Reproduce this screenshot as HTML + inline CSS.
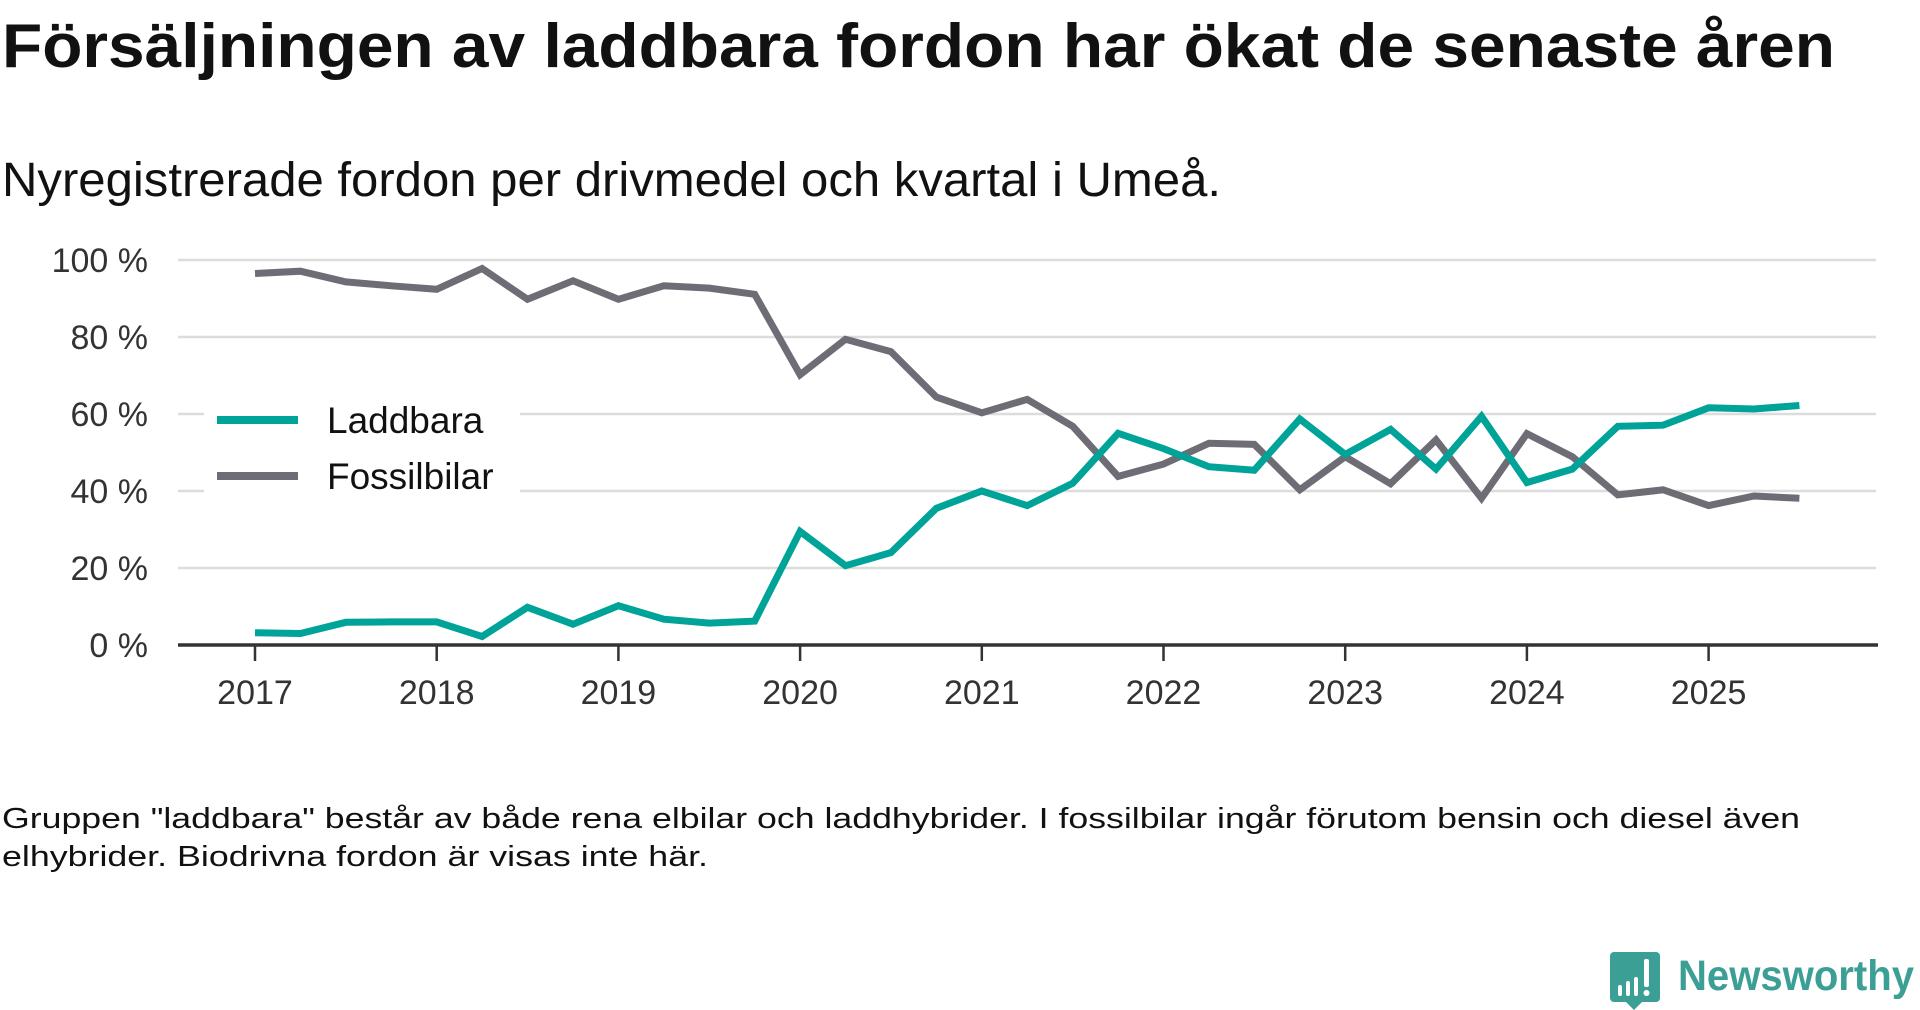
<!DOCTYPE html>
<html><head><meta charset="utf-8"><style>
html,body{margin:0;padding:0;background:#fff;}
svg{display:block;font-family:"Liberation Sans","DejaVu Sans",sans-serif;}
</style></head><body>
<svg id="chart" width="1920" height="1010" viewBox="0 0 1920 1010">
<text x="2" y="67" font-size="62" font-weight="bold" fill="#111" textLength="1833" lengthAdjust="spacingAndGlyphs">Försäljningen av laddbara fordon har ökat de senaste åren</text>
<text x="2" y="196" font-size="48" fill="#111" textLength="1219" lengthAdjust="spacingAndGlyphs">Nyregistrerade fordon per drivmedel och kvartal i Umeå.</text>
<g id="grid"></g>
<g id="yaxis"></g>
<g id="xaxis"></g>
<g id="series"></g>
<g>
<rect x="204" y="392" width="316" height="110" fill="#fff"/>
<line x1="217" y1="420" x2="298" y2="420" stroke="#00a398" stroke-width="8"/>
<text x="327" y="433" font-size="37" fill="#111">Laddbara</text>
<line x1="217" y1="476" x2="298" y2="476" stroke="#6e6d75" stroke-width="8"/>
<text x="327" y="489" font-size="37" fill="#111">Fossilbilar</text>
</g>
<text x="2" y="828" font-size="29" fill="#111" textLength="1798" lengthAdjust="spacingAndGlyphs">Gruppen "laddbara" består av både rena elbilar och laddhybrider. I fossilbilar ingår förutom bensin och diesel även</text>
<text x="2" y="866" font-size="29" fill="#111" textLength="706" lengthAdjust="spacingAndGlyphs">elhybrider. Biodrivna fordon är visas inte här.</text>
<g>
<path d="M1614 952 h42 a4 4 0 0 1 4 4 v42 a4 4 0 0 1 -4 4 h-14 l-8 8 l-8 -8 h-12 a4 4 0 0 1 -4 -4 v-42 a4 4 0 0 1 4 -4z" fill="#3c9f95"/>
<rect x="1618" y="985" width="4" height="11" rx="2" fill="#fff"/>
<rect x="1626" y="981" width="4" height="15" rx="2" fill="#fff"/>
<rect x="1634" y="977" width="4" height="19" rx="2" fill="#fff"/>
<rect x="1644" y="959" width="5" height="28" rx="2" fill="#fff"/>
<circle cx="1646.5" cy="993" r="3" fill="#fff"/>
<text x="1678" y="990" font-size="43" font-weight="bold" fill="#3c9f95" textLength="236" lengthAdjust="spacingAndGlyphs">Newsworthy</text>
</g>
</svg>
<script>
const years = [2017,2018,2019,2020,2021,2022,2023,2024,2025];
const yTicks = [0,20,40,60,80,100];
const yTickLabels = ["0 %","20 %","40 %","60 %","80 %","100 %"];
const laddbara = [3.2,3,5.9,6,6,2.2,9.8,5.4,10.2,6.7,5.7,6.2,29.5,20.6,24,35.5,40,36.2,42,55,51,46.3,45.4,58.7,49.5,56,45.7,59.4,42.2,45.7,56.8,57.1,61.6,61.3,62.2];
const fossilbilar = [96.5,97.1,94.3,93.3,92.4,97.8,89.8,94.6,89.8,93.3,92.7,91.1,70.2,79.4,76.2,64.4,60.3,63.8,56.8,43.8,47,52.4,52.1,40.3,48.9,41.9,53.3,38.1,54.9,48.9,39,40.3,36.2,38.7,38.1];
const NS="http://www.w3.org/2000/svg";
const X0=178,X1=1876,Y0=645,Y100=260;
const xYear=t=>255+(t-2017)*181.7;
const xIdx=i=>xYear(2017+i/4);
const yV=v=>Y0+(Y100-Y0)*v/100;
function mk(tag,attrs,parent){const e=document.createElementNS(NS,tag);for(const k in attrs)e.setAttribute(k,attrs[k]);parent.appendChild(e);return e;}
const grid=document.getElementById('grid'),ya=document.getElementById('yaxis'),xa=document.getElementById('xaxis'),se=document.getElementById('series');
yTicks.forEach((v,i)=>{
 if(v>0){const l=mk('line',{x1:X0,x2:X1,y1:yV(v),y2:yV(v),stroke:'#dcdcdc','stroke-width':2.5},grid);
 
 }
 const t=mk('text',{x:148,y:yV(v)+12,'font-size':34,fill:'#333','text-anchor':'end'},ya);
 t.textContent=yTickLabels[i];
 
 
});
const ax=mk('line',{x1:X0,x2:X1+2,y1:Y0,y2:Y0,stroke:'#333','stroke-width':3.5},xa);


years.forEach(y=>{
 const tk=mk('line',{x1:xYear(y),x2:xYear(y),y1:Y0,y2:Y0+16,stroke:'#333','stroke-width':2.5},xa);
 
 
 const t=mk('text',{x:xYear(y),y:704,'font-size':34,fill:'#333','text-anchor':'middle'},xa);
 t.textContent=y;
 
 
});
function line(arr,color,name){
 const d=arr.map((v,i)=>(i?'L':'M')+xIdx(i).toFixed(1)+' '+yV(v).toFixed(1)).join(' ');
 const p=mk('path',{d:d,fill:'none',stroke:color,'stroke-width':7,'stroke-linejoin':'miter'},se);
 
 
}
line(fossilbilar,'#6e6d75','line-fossilbilar');
line(laddbara,'#00a398','line-laddbara');
</script>
</body></html>
